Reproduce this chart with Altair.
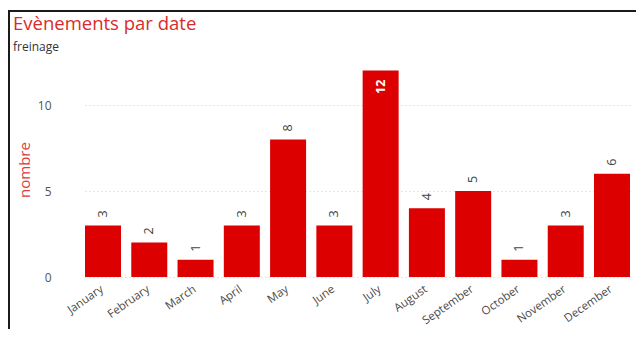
import altair as alt
import pandas as pd

months = ["January", "February", "March", "April", "May", "June", "July",
          "August", "September", "October", "November", "December"]
counts = [3, 2, 1, 3, 8, 3, 12, 4, 5, 1, 3, 6]
y_ticks = [0, 5, 10]

df = pd.DataFrame({"mois": months, "nombre": counts})

RED = "#DD0000"
FONT = "Open Sans"

x_enc = alt.X("mois:N", sort=months,
              scale=alt.Scale(range=[23, 568], paddingInner=0.222, paddingOuter=0),
              axis=alt.Axis(title=None, labelAngle=-35, labelAlign="right",
                            labelBaseline="top", labelPadding=6, labelOffset=-4,
                            labelFontSize=11.5, labelColor="#4a4a4a", labelFont=FONT,
                            domain=False, ticks=False, grid=False))
y_enc = alt.Y("nombre:Q",
              scale=alt.Scale(domain=[0, 12.5], nice=False, zero=True),
              axis=alt.Axis(title="nombre", values=y_ticks, titleColor="#E03A3A",
                            titleFontSize=15, titleFontWeight="normal", titleFont=FONT,
                            titleX=-38, titleBaseline="middle", titleAlign="center",
                            labelColor="#555555", labelFontSize=12, labelFont=FONT,
                            labelPadding=11, domain=False, ticks=False,
                            grid=True, gridDash=[1, 3], gridColor="#CFCFCF"))

base = alt.Chart(df)

bars = base.mark_bar(color=RED).encode(x=x_enc, y=y_enc)

labels_out = base.transform_filter("datum.nombre < 11").mark_text(
    angle=270, align="left", baseline="middle", dx=8, fontSize=12.5,
    color="#444444", font=FONT
).encode(x=alt.X("mois:N", sort=months), y=alt.Y("nombre:Q"),
         text=alt.Text("nombre:Q"))

labels_in = base.transform_filter("datum.nombre >= 11").mark_text(
    angle=270, align="right", baseline="middle", dx=-9, fontSize=12.5,
    color="white", font=FONT, fontWeight="bold"
).encode(x=alt.X("mois:N", sort=months), y=alt.Y("nombre:Q"),
         text=alt.Text("nombre:Q"))

frame_data = alt.Data(values=[{"k": 1}])
top_line = alt.Chart(frame_data).mark_rule(color="#1a1a1a", strokeWidth=2).encode(
    x=alt.value(-54), x2=alt.value(700), y=alt.value(-51))
left_line = alt.Chart(frame_data).mark_rule(color="#1a1a1a", strokeWidth=2).encode(
    x=alt.value(-53), y=alt.value(-52), y2=alt.value(300))

chart = alt.layer(bars, labels_out, labels_in, top_line, left_line).properties(
    width=574, height=215,
    title=alt.Title("Evènements par date", subtitle="freinage", anchor="start",
                    frame="group", dx=-49, offset=-44, color="#D92B2B",
                    fontSize=18.5, fontWeight="normal", font=FONT,
                    subtitleColor="#333333", subtitleFontSize=12,
                    subtitleFont=FONT, subtitlePadding=9),
    autosize=alt.AutoSizeParams(type="none"),
    padding={"left": 54, "top": 54, "right": 0, "bottom": 52},
).configure_view(stroke=None)

chart.save("out.html", embed_options={"renderer": "svg", "actions": False})
